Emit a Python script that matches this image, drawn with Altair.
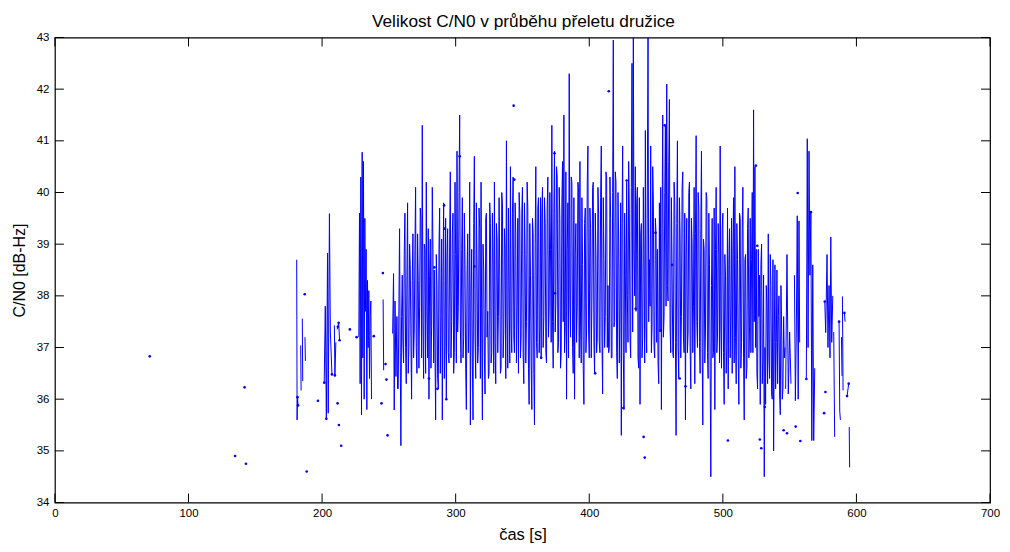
import altair as alt
import pandas as pd

x_ticks = [0, 100, 200, 300, 400, 500, 600, 700]
y_ticks = [34, 35, 36, 37, 38, 39, 40, 41, 42, 43]
title_text = ["Velikost C/N0 v průběhu přeletu družice"]

# isolated single measurements (t [s], C/N0 [dB-Hz])
iso_t = [71, 134.9, 142.0, 143.0, 187.0, 188.5, 196.9, 211.6, 212.6, 214.3, 220.8, 225.8,
         238.7, 244.5, 245.5, 247.5, 248.2, 249.0, 343.4, 414.6, 440.7, 441.5, 503.8,
         528.8, 545.5, 548.0, 556.0, 558.0, 554.5, 575.8, 576.8]
iso_v = [36.83, 34.90, 36.23, 34.75, 38.03, 34.60, 35.97, 35.92, 35.50, 35.10, 37.35, 37.20,
         37.22, 35.92, 38.44, 36.68, 36.38, 35.30, 41.68, 41.96, 35.27, 34.87, 35.20,
         35.05, 35.40, 35.34, 39.99, 35.19, 35.47, 35.73, 36.14]

# dots visible on top of the line
dot_t = [181.6, 182.0, 201.6, 203.2, 207.4, 209.6, 211.8, 212.4, 213.1, 280.0, 284.0,
         286.3, 291.3, 291.8, 293.0, 303.0, 314.0, 343.9, 364.0, 374.0, 374.3, 404.4,
         425.5, 428.0, 434.7, 449.6, 453.5, 456.5, 462.0, 467.7, 472.0, 524.7, 525.8,
         527.7, 531.4, 562.5, 565.9, 576.3, 587.0, 591.0, 593.0, 594.2]
dot_v = [36.04, 35.88, 36.32, 35.62, 36.48, 36.46, 37.40, 37.48, 37.14, 36.40, 38.55,
         36.20, 39.75, 39.30, 36.00, 40.70, 38.57, 40.25, 36.80, 40.76, 38.05, 36.50,
         35.83, 40.23, 37.75, 39.22, 37.33, 41.30, 38.60, 36.40, 36.25, 40.52, 38.97,
         35.22, 35.85, 36.39, 39.62, 37.89, 37.50, 37.67, 36.06, 36.30]

# early sparse part
early_t = [181.0, 181.3, 181.6, 182.0, None, 184.0, 184.3, None, 185.2, 185.5, None,
           187.2, 187.5, None,
           201.6, 202.4, 203.2, 204.1, 204.6, 205.5, 206.2, 207.4, None,
           209.2, 209.6, 210.3, None, 211.3, 211.8, 212.4, 213.1, None,
           227.5, 228.0, 228.5, 229.0, 229.5, 230.0, 230.5, 231.0, 231.5, 232.0,
           232.5, 233.0, 233.5, 234.0, 234.5, 235.0, 235.5, 236.0, 236.5, 237.0, None,
           245.7, 246.1, None,
           252.8, 253.5, 254.0, 254.6, 255.3, 256.0, 256.5]
early_v = [38.70, 35.60, 36.04, 35.88, None, 37.04, 36.17, None, 37.56, 36.35, None,
           37.20, 36.74, None,
           36.32, 37.80, 35.62, 38.83, 35.73, 39.59, 37.30, 36.48, None,
           37.43, 36.46, 37.10, None, 37.35, 37.40, 37.48, 37.14, None,
           37.2, 39.6, 36.3, 40.3, 35.7, 40.78, 36.8, 40.6, 36.0, 39.5,
           37.7, 38.9, 35.8, 38.3, 37.0, 38.1, 36.4, 37.6, 37.9, 36.0, None,
           37.93, 36.56, None,
           37.27, 38.43, 35.79, 37.90, 36.44, 37.60, 36.20]

# dense part: value at each whole second from t = 257 s to t = 546 s ...
dense_start = 257
dense_v = [
    36.2, 39.3, 35.1, 38.4, 36.7, 39.6, 36.3, 39.8, 37.0, 38.6,
    36.0, 39.2, 37.3, 40.1, 36.5, 38.3, 37.8, 39.5, 41.3, 36.4,
    38.9, 40.2, 36.8, 36.0, 39.1, 37.4, 38.9, 38.5, 35.6, 38.2,
    36.2, 39.7, 37.6, 35.6, 39.8, 37.0, 36.0, 39.3, 36.7, 40.4,
    37.5, 39.6, 36.9, 38.8, 40.8, 37.8, 41.5, 36.7, 39.9, 37.2,
    38.6, 35.8, 39.2, 37.5, 35.5, 38.9, 35.6, 40.7, 36.4, 38.6,
    37.0, 39.3, 40.2, 35.6, 38.5, 36.1, 39.6, 37.7, 36.5, 39.4,
    36.9, 38.7, 40.2, 36.3, 39.1, 37.6, 38.4, 36.6, 39.8, 37.3,
    38.9, 41.0, 36.6, 38.2, 40.5, 36.9, 40.3, 36.9, 39.2, 37.8,
    36.5, 39.6, 37.2, 40.1, 36.3, 38.8, 37.5, 39.7, 35.9, 38.4,
    35.8, 39.2, 35.5, 40.5, 36.8, 39.9, 37.4, 36.8, 40.1, 37.6,
    39.4, 36.7, 40.3, 37.8, 38.9, 41.3, 36.6, 40.8, 37.9, 40.3,
    37.1, 39.5, 36.9, 40.6, 41.5, 37.4, 36.0, 39.8, 42.3, 37.2,
    40.2, 36.5, 36.0, 39.4, 37.8, 40.1, 40.6, 36.7, 38.6, 35.9,
    39.7, 37.3, 40.9, 36.8, 39.3, 37.9, 40.2, 36.5, 38.8, 37.2,
    39.6, 36.9, 40.9, 36.1, 38.7, 37.6, 40.3, 38.2, 37.0, 39.5,
    36.8, 42.95, 37.5, 40.2, 36.4, 39.1, 38.0, 35.3, 40.9, 35.8,
    38.4, 40.2, 37.1, 39.6, 36.8, 42.5, 43.0, 38.0, 37.7, 40.1,
    36.6, 35.9, 39.4, 37.2, 38.5, 41.2, 36.9, 43.0, 38.7, 40.9,
    37.4, 39.8, 36.8, 39.2, 38.9, 36.3, 37.3, 35.8, 41.5, 37.6,
    41.3, 42.1, 37.9, 41.8, 36.9, 38.6, 36.8, 39.8, 35.3, 41.0,
    36.4, 39.2, 37.6, 40.4, 36.9, 35.6, 39.5, 37.3, 40.2, 36.2,
    39.0, 37.8, 36.3, 41.1, 37.0, 39.7, 36.5, 40.8, 35.5, 38.9,
    37.3, 39.9, 36.4, 38.6, 34.5, 39.5, 36.9, 35.8, 40.1, 37.2,
    38.8, 40.9, 36.6, 39.6, 35.9, 38.4, 37.0, 36.2, 39.3, 37.8,
    36.5, 39.9, 40.5, 36.3, 38.7, 35.9, 39.5, 37.1, 40.1, 35.6,
    38.8, 36.6, 39.7, 37.4, 36.9, 40.0, 41.6, 40.5, 38.9, 36.2,
    37.6, 35.9, 39.0, 36.8, 34.5, 35.9, 37.8, 39.2, 36.4, 38.2,
    36.0, 35.0, 38.6, 37.1, 36.3, 38.0, 35.7, 37.4, 36.2, 36.8,
]
# ... and at each half second in between
dense_half_v = [
    37.8, 36.9, 37.6, 37.1, 38.8, 37.0, 38.4, 36.5, 39.0, 37.2,
    38.3, 36.8, 38.9, 37.0, 39.2, 36.6, 39.7, 36.8, 37.5, 39.0,
    36.5, 37.7, 39.3, 38.4, 36.6, 40.1, 36.7, 37.0, 38.8, 36.4,
    38.9, 36.5, 39.1, 38.3, 36.4, 39.5, 38.7, 36.9, 39.1, 36.8,
    39.2, 36.5, 40.2, 36.7, 37.3, 40.0, 37.4, 38.9, 36.8, 39.6,
    36.6, 38.4, 36.9, 40.2, 38.0, 36.7, 39.4, 37.2, 39.8, 36.7,
    39.7, 36.4, 37.3, 39.0, 36.8, 39.5, 37.2, 36.4, 39.8, 36.7,
    39.6, 36.5, 37.1, 39.4, 36.9, 39.9, 36.5, 40.0, 36.8, 39.3,
    36.4, 37.6, 39.7, 36.7, 37.4, 39.6, 37.2, 39.8, 36.7, 39.5,
    40.0, 36.8, 39.6, 36.9, 39.8, 36.7, 40.2, 36.6, 39.4, 36.7,
    39.5, 36.5, 39.0, 37.1, 39.7, 36.9, 39.9, 39.6, 37.0, 39.9,
    36.9, 39.7, 37.2, 40.0, 37.1, 37.5, 39.6, 37.3, 40.5, 36.9,
    40.1, 36.6, 39.8, 37.5, 36.9, 40.4, 38.9, 36.8, 38.0, 40.3,
    37.0, 39.9, 38.8, 37.1, 40.2, 36.8, 37.4, 39.9, 36.6, 39.4,
    36.9, 40.2, 37.3, 39.7, 36.8, 40.1, 37.1, 39.6, 36.9, 40.1,
    37.1, 39.9, 37.2, 39.9, 37.0, 40.4, 37.0, 36.9, 40.3, 36.8,
    40.0, 37.4, 40.4, 36.9, 40.0, 36.7, 39.8, 39.4, 36.9, 39.6,
    36.9, 38.0, 40.6, 37.2, 40.1, 37.3, 38.9, 40.5, 39.8, 36.8,
    39.9, 39.2, 36.8, 40.1, 36.7, 37.4, 40.3, 37.5, 37.8, 36.9,
    40.5, 37.0, 39.5, 37.1, 36.7, 39.8, 40.1, 39.3, 37.2, 40.0,
    37.8, 38.2, 40.6, 37.4, 39.9, 36.9, 40.2, 37.1, 39.4, 37.0,
    39.9, 36.8, 40.1, 37.2, 39.6, 38.8, 36.9, 40.0, 37.0, 39.5,
    36.9, 40.1, 39.2, 37.5, 40.0, 37.1, 39.3, 37.0, 39.1, 36.7,
    40.0, 36.9, 39.6, 36.6, 38.2, 36.8, 39.7, 38.9, 36.9, 39.4,
    36.7, 37.4, 39.3, 36.9, 38.8, 36.5, 39.7, 38.6, 36.8, 39.5,
    38.8, 36.7, 37.2, 39.4, 36.8, 39.6, 36.6, 39.3, 36.8, 38.7,
    36.4, 39.3, 36.8, 39.5, 38.7, 36.9, 37.5, 37.0, 36.5, 38.9,
    38.4, 38.6, 36.3, 38.4, 37.0, 38.2, 36.3, 36.8, 38.8, 36.1,
    38.7, 37.1, 36.2, 38.5, 37.6, 36.1, 38.2, 36.0, 37.6, 37.0,
]

# late, broken-up part
late_t = [547.0, 548.0, 549.0, 550.0, 551.0, None,
          553.6, 554.3, 555.0, 555.7, 556.4, 557.0, 557.5, None,
          562.5, 563.2, 563.8, 564.5, 565.2, 565.9, 566.6, 567.3, 568.0, 568.8, None,
          576.3, 577.0, 578.0, 578.7, 579.5, 580.2, 580.8, 581.5, 582.3, None,
          583.0, 583.7, None,
          587.0, 587.5, 588.0, None, 588.8, 589.2, None, 589.5, 590.0, None,
          591.0, 591.5, None, 593.0, 594.2, None, 594.6, 594.9]
late_v = [36.2, 38.8, 36.1, 37.3, 36.3, None,
          38.4, 35.97, 37.3, 39.55, 36.0, 39.45, 37.1, None,
          36.39, 41.04, 37.0, 40.8, 38.4, 39.62, 35.2, 38.6, 35.2, 36.6, None,
          37.89, 37.29, 38.8, 37.0, 38.2, 36.8, 39.14, 37.1, 38.0, None,
          37.3, 35.27, None,
          37.5, 35.77, 35.6, None, 37.2, 36.45, None, 37.99, 36.17, None,
          37.67, 37.5, None, 36.06, 36.3, None, 35.46, 34.68]

# ---- build the tables ----
dense_t, dense_all = [], []
for i, (a, b) in enumerate(zip(dense_v, dense_half_v)):
    dense_t += [dense_start + i, dense_start + i + 0.5]
    dense_all += [a, b]

all_t = early_t + [None] + dense_t + [None] + late_t
all_v = early_v + [None] + dense_all + [None] + late_v

rows = []
seg = 0
for t, v in zip(all_t, all_v):
    if t is None or v is None:
        seg += 1
        continue
    rows.append({"t": t, "v": v, "seg": seg})
df_line = pd.DataFrame(rows)
df_dots = pd.DataFrame({"t": iso_t + dot_t, "v": iso_v + dot_v})

W, H = 937, 466
TICK = 9
blue = "#0000ff"
FONT = "Liberation Sans"

xs = alt.Scale(domain=[0, 700], nice=False, zero=False)
ys = alt.Scale(domain=[34, 43], nice=False, zero=False)

x_axis = alt.Axis(values=x_ticks, title="čas [s]", grid=False, ticks=False, tickSize=0,
                  domain=False, labelPadding=5, labelFontSize=11.5, labelFont=FONT,
                  labelColor="black", titleFont=FONT, titleFontSize=16.5,
                  titleFontWeight="normal", titleColor="black", titlePadding=8,
                  labelFlush=False)
y_axis = alt.Axis(values=y_ticks, title="C/N0 [dB-Hz]", grid=False, ticks=False, tickSize=0,
                  domain=False, labelPadding=6, labelFontSize=11.5, labelFont=FONT,
                  labelColor="black", titleFont=FONT, titleFontSize=16,
                  titleFontWeight="normal", titleColor="black", titlePadding=9,
                  labelFlush=False)

line = alt.Chart(df_line).mark_line(color=blue, strokeWidth=1, clip=True).encode(
    x=alt.X("t:Q", scale=xs, axis=x_axis),
    y=alt.Y("v:Q", scale=ys, axis=y_axis),
    detail="seg:N",
)
pts = alt.Chart(df_dots).mark_circle(color=blue, size=7, opacity=1, clip=True).encode(
    x=alt.X("t:Q", scale=xs),
    y=alt.Y("v:Q", scale=ys),
)

xt = alt.Chart(pd.DataFrame({"tick": x_ticks}))
yt = alt.Chart(pd.DataFrame({"tick": y_ticks}))
tick_style = dict(color="black", strokeWidth=1)
bottom_ticks = xt.mark_rule(**tick_style).encode(
    x=alt.X("tick:Q", scale=xs), y=alt.value(H), y2=alt.value(H - TICK))
top_ticks = xt.mark_rule(**tick_style).encode(
    x=alt.X("tick:Q", scale=xs), y=alt.value(0), y2=alt.value(TICK))
left_ticks = yt.mark_rule(**tick_style).encode(
    y=alt.Y("tick:Q", scale=ys), x=alt.value(0), x2=alt.value(TICK))
right_ticks = yt.mark_rule(**tick_style).encode(
    y=alt.Y("tick:Q", scale=ys), x=alt.value(W), x2=alt.value(W - TICK))

title = alt.Chart(pd.DataFrame({"label": title_text})).mark_text(
    font=FONT, fontSize=17.3, color="black", align="center", baseline="alphabetic"
).encode(x=alt.value(W / 2 + 1), y=alt.value(-11), text="label:N")

chart = alt.layer(line, pts, bottom_ticks, top_ticks, left_ticks, right_ticks, title).properties(
    width=W, height=H,
    autosize=alt.AutoSizeParams(type="none"),
    padding={"left": 47, "top": 29, "right": 12, "bottom": 40},
    background="white",
).configure_view(stroke="black", strokeWidth=1.2)

chart.save("out.html", embed_options={"renderer": "svg", "actions": False})
